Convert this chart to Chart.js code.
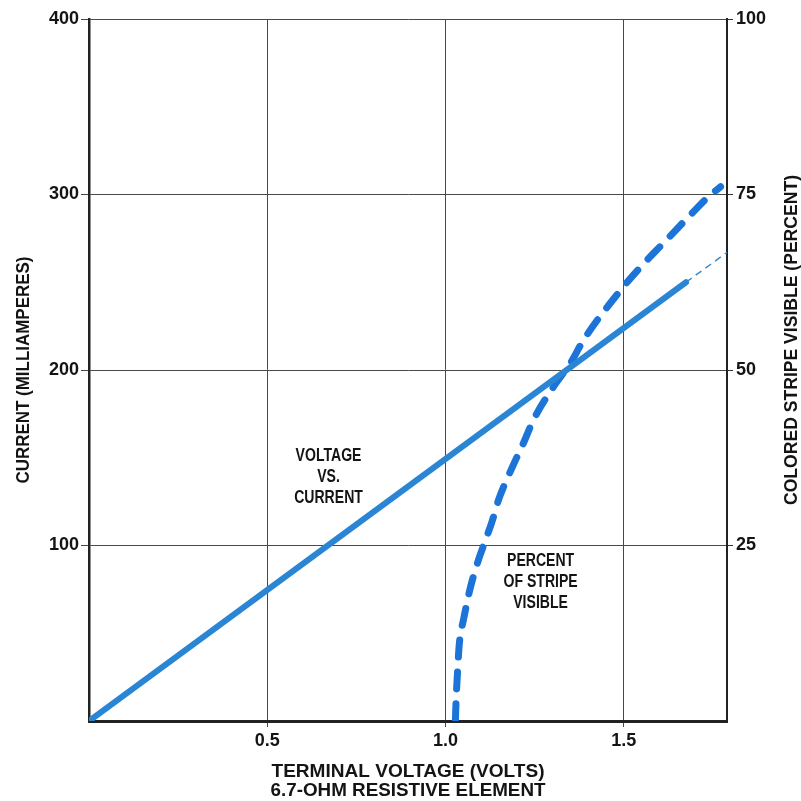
<!DOCTYPE html>
<html>
<head>
<meta charset="utf-8">
<script src="https://cdn.jsdelivr.net/npm/chart.js@4"></script>
<style>
  html, body { margin: 0; padding: 0; background: #fff; }
  #wrap { width: 801px; height: 801px; }
</style>
</head>
<body>
<div id="wrap"><canvas id="chart" width="801" height="801"></canvas></div>
<script>
// voltage vs current (volts, milliamperes)
const currentVolts = [0, 1.675];
const currentMilliamps = [0, 250];
// thin dashed extension of the same line
const extensionVolts = [1.675, 1.79];
const extensionMilliamps = [250, 267];
// percent of stripe visible (volts, percent)
const stripeVolts = [1.028, 1.030, 1.034, 1.039, 1.051, 1.070, 1.093, 1.107, 1.132, 1.149, 1.188, 1.219, 1.247, 1.303, 1.351, 1.388, 1.492, 1.548, 1.612, 1.680, 1.736, 1.772];
const stripePercent = [0, 3, 7, 11, 14.5, 19, 23, 25, 28.6, 31.5, 36.2, 39.6, 42.9, 47.6, 51, 54.3, 61.4, 64.7, 68.1, 71.7, 74.6, 76.1];

const xTicks = [0.5, 1.0, 1.5];
const leftTicks = [100, 200, 300, 400];
const rightTicks = [25, 50, 75, 100];

const SANS = "'Liberation Sans', Arial, sans-serif";

function pts(xs, ys) {
    return xs.map((x, i) => ({ x: x, y: ys[i] }));
}

// draw text with a horizontal squeeze, rotated if needed
function squeezeText(ctx, text, cx, cy, sx, rot) {
    ctx.save();
    ctx.translate(cx, cy);
    if (rot) ctx.rotate(rot);
    ctx.scale(sx, 1);
    ctx.fillText(text, 0, 0);
    ctx.restore();
}

// same, but to a target width
function fitText(ctx, text, cx, cy, width, rot) {
    squeezeText(ctx, text, cx, cy, width / ctx.measureText(text).width, rot);
}

const labelPlugin = {
    id: 'labels',
    afterDraw(chart) {
        const ctx = chart.ctx;
        const x = chart.scales.x, y = chart.scales.y, a = chart.chartArea;
        ctx.save();
        ctx.fillStyle = '#141414';
        ctx.textAlign = 'center';
        ctx.textBaseline = 'middle';
        ctx.font = 'bold 18.5px ' + SANS;

        const block = (lines, px, py) => {
            lines.forEach((t, i) => squeezeText(ctx, t, px, py + i * 21, 0.76));
        };
        block(['VOLTAGE', 'VS.', 'CURRENT'], x.getPixelForValue(0.672), y.getPixelForValue(151));
        block(['PERCENT', 'OF STRIPE', 'VISIBLE'], x.getPixelForValue(1.267), y.getPixelForValue(91));

        // axis titles
        ctx.font = 'bold 18px ' + SANS;
        const mid = (a.left + a.right) / 2;
        fitText(ctx, 'TERMINAL VOLTAGE (VOLTS)', mid, 772, 273);
        fitText(ctx, '6.7-OHM RESISTIVE ELEMENT', mid, 791, 275);
        fitText(ctx, 'CURRENT (MILLIAMPERES)', 24, (a.top + a.bottom) / 2, 227, -Math.PI / 2);
        fitText(ctx, 'COLORED STRIPE VISIBLE (PERCENT)', 792, 340, 330, -Math.PI / 2);
        ctx.restore();
    }
};

const tickFont = { family: SANS, size: 18, weight: 'bold' };

const ctx = document.getElementById('chart').getContext('2d');
new Chart(ctx, {
    type: 'line',
    data: {
        datasets: [{
            label: 'Voltage vs. current',
            data: pts(currentVolts, currentMilliamps),
            yAxisID: 'y',
            borderColor: '#2a86d4',
            borderWidth: 6,
            pointRadius: 0,
            borderCapStyle: 'round'
        }, {
            label: 'Extension',
            data: pts(extensionVolts, extensionMilliamps),
            yAxisID: 'y',
            borderColor: '#3a8cc8',
            borderWidth: 1.5,
            borderDash: [7, 5],
            pointRadius: 0
        }, {
            label: 'Percent of stripe visible',
            data: pts(stripeVolts, stripePercent),
            yAxisID: 'y2',
            borderColor: '#1c74d8',
            borderWidth: 7,
            borderDash: [17, 15],
            borderCapStyle: 'round',
            cubicInterpolationMode: 'monotone',
            pointRadius: 0
        }]
    },
    options: {
        responsive: false,
        animation: false,
        layout: { padding: { top: 19, left: 0, right: 0, bottom: 0 } },
        plugins: { legend: { display: false }, tooltip: { enabled: false } },
        scales: {
            x: {
                type: 'linear',
                min: 0,
                max: 1.79,
                afterFit: s => { s.height = 80; },
                afterBuildTicks: s => { s.ticks = xTicks.map(v => ({ value: v })); },
                ticks: {
                    color: '#141414',
                    font: tickFont,
                    padding: 3,
                    maxRotation: 0,
                    callback: v => v.toFixed(1)
                },
                grid: { color: '#4a4a44', lineWidth: 1, tickLength: 6 },
                border: { color: '#222', width: 3 }
            },
            y: {
                position: 'left',
                min: 0,
                max: 400,
                afterFit: s => { s.width = 89; },
                afterBuildTicks: s => { s.ticks = leftTicks.map(v => ({ value: v })); },
                ticks: {
                    color: '#141414',
                    font: tickFont,
                    padding: 2
                },
                grid: { color: '#4a4a44', lineWidth: 1, tickLength: 8 },
                border: { color: '#222', width: 2.5 }
            },
            y2: {
                position: 'right',
                min: 0,
                max: 100,
                afterFit: s => { s.width = 74; },
                afterBuildTicks: s => { s.ticks = rightTicks.map(v => ({ value: v })); },
                ticks: {
                    color: '#141414',
                    font: tickFont,
                    padding: 3
                },
                grid: { drawOnChartArea: false, color: '#333', lineWidth: 1, tickLength: 6 },
                border: { color: '#222', width: 2 }
            }
        }
    },
    plugins: [labelPlugin]
});
</script>
</body>
</html>
